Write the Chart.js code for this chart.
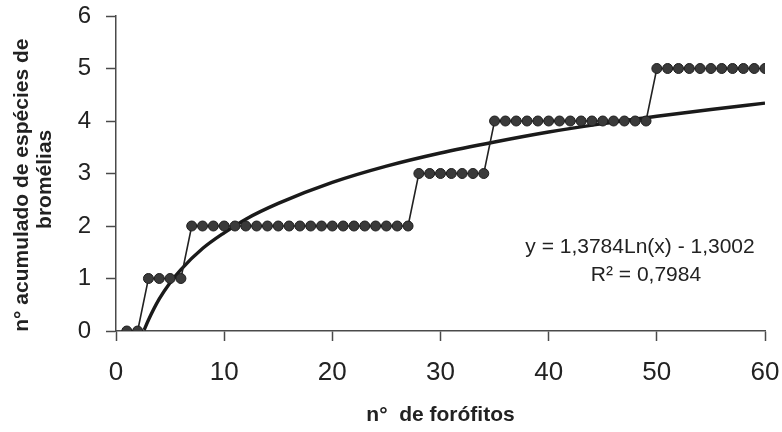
<!DOCTYPE html>
<html>
<head>
<meta charset="utf-8">
<script src="https://cdn.jsdelivr.net/npm/chart.js@4.4.1/dist/chart.umd.min.js"></script>
<style>
  body { margin: 0; background: #fff; }
  #wrap { width: 782px; height: 432px; }
</style>
</head>
<body>
<div id="wrap"><canvas id="chart1" width="782" height="432"></canvas></div>
<script>
// nº de forófitos
const forofitos = [1, 2, 3, 4, 5, 6, 7, 8, 9, 10, 11, 12, 13, 14, 15, 16, 17, 18, 19, 20,
  21, 22, 23, 24, 25, 26, 27, 28, 29, 30, 31, 32, 33, 34, 35, 36, 37, 38, 39, 40,
  41, 42, 43, 44, 45, 46, 47, 48, 49, 50, 51, 52, 53, 54, 55, 56, 57, 58, 59, 60]
// nº acumulado de espécies
const especies = [0, 0, 1, 1, 1, 1, 2, 2, 2, 2, 2, 2, 2, 2, 2, 2, 2, 2, 2, 2,
  2, 2, 2, 2, 2, 2, 2, 3, 3, 3, 3, 3, 3, 3, 4, 4, 4, 4, 4, 4,
  4, 4, 4, 4, 4, 4, 4, 4, 4, 5, 5, 5, 5, 5, 5, 5, 5, 5, 5, 5]
// logarithmic trend line
const trendX = [2.6, 3, 4, 5, 6, 8, 10, 12, 15, 20, 25, 30, 35, 40, 45, 50, 55, 60]
const trendY = [0.02, 0.21, 0.61, 0.92, 1.17, 1.57, 1.87, 2.13, 2.43, 2.83, 3.14, 3.39, 3.6, 3.79, 3.95, 4.09, 4.22, 4.34]
const xTicks = [0, 10, 20, 30, 40, 50, 60]
const yTicks = [0, 1, 2, 3, 4, 5, 6]
const equation = ['y = 1,3784Ln(x) - 1,3002', 'R\u00B2 = 0,7984']

const FONT = "'Liberation Sans', Arial, sans-serif"
const AXIS = '#4a4a4a'

const equationLabel = {
    id: 'equationLabel',
    afterDraw(chart) {
        const ctx = chart.ctx
        const a = chart.chartArea
        ctx.save()
        ctx.fillStyle = '#222'
        ctx.font = '21px ' + FONT
        ctx.textAlign = 'center'
        ctx.textBaseline = 'middle'
        ctx.fillText(equation[0], a.left + 524, a.top + 231)
        ctx.fillText(equation[1], a.left + 530, a.top + 259)
        ctx.restore()
    }
}

// labels should not push the plot area around
const noPad = s => { s.paddingTop = 0; s.paddingBottom = 0; s.paddingLeft = 0; s.paddingRight = 0 }

var chart1 = document.getElementById('chart1').getContext('2d')
new Chart(chart1, {
    type: 'line',
    data: {
        datasets: [{
            label: 'tendência',
            data: trendX.map((x, i) => ({ x: x, y: trendY[i] })),
            borderColor: '#1a1a1a',
            borderWidth: 3.4,
            pointRadius: 0,
            tension: 0.4,
            cubicInterpolationMode: 'monotone',
            order: 2
        }, {
            label: 'espécies',
            data: forofitos.map((x, i) => ({ x: x, y: especies[i] })),
            borderColor: '#222',
            borderWidth: 1.6,
            pointRadius: 5,
            pointBackgroundColor: '#3a3a3a',
            pointBorderColor: '#1e1e1e',
            pointBorderWidth: 1,
            tension: 0,
            order: 1
        }]
    },
    options: {
        responsive: false,
        animation: false,
        layout: { padding: { top: 16, right: 17, left: 0, bottom: 0 } },
        plugins: {
            legend: { display: false },
            tooltip: { enabled: false }
        },
        scales: {
            x: {
                type: 'linear',
                min: 0,
                max: 60,
                afterBuildTicks: s => { s.ticks = xTicks.map(v => ({ value: v })) },
                afterFit: s => { s.height = 101; noPad(s) },
                grid: { drawOnChartArea: false, drawTicks: true, tickLength: 10, tickWidth: 1.5, color: AXIS },
                border: { display: true, color: AXIS, width: 1.5 },
                ticks: { color: '#222', padding: 16, maxRotation: 0, font: { family: FONT, size: 26 } },
                title: {
                    display: true,
                    text: 'n°  de forófitos',
                    color: '#222',
                    font: { family: FONT, size: 21, weight: 'bold' },
                    padding: { top: 0, bottom: 4 }
                }
            },
            y: {
                min: 0,
                max: 6,
                afterBuildTicks: s => { s.ticks = yTicks.map(v => ({ value: v })) },
                afterFit: s => { s.width = 116; noPad(s) },
                grid: { drawOnChartArea: false, drawTicks: true, tickLength: 10, tickWidth: 1.5, color: AXIS },
                border: { display: true, color: AXIS, width: 1.5 },
                ticks: { color: '#222', padding: 15, font: { family: FONT, size: 24 } },
                title: {
                    display: true,
                    // trailing spaces nudge the rotated lines down a bit
                    text: ['n° acumulado de espécies de    ', 'bromélias  '],
                    color: '#222',
                    font: { family: FONT, size: 21, weight: 'bold', lineHeight: 1.1 },
                    padding: { top: 11, bottom: 0 }
                }
            }
        }
    },
    plugins: [equationLabel]
})
</script>
</body>
</html>
